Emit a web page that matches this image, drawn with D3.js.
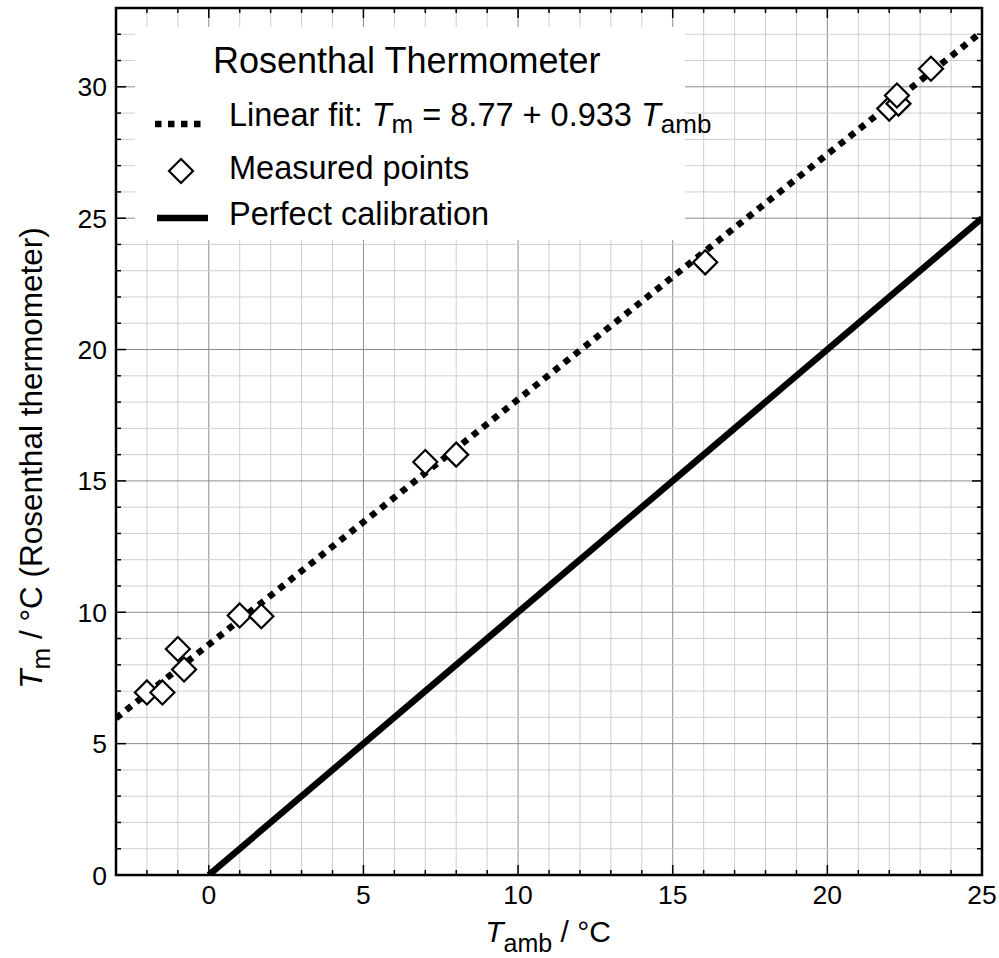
<!DOCTYPE html>
<html>
<head>
<meta charset="utf-8">
<script src="https://cdn.jsdelivr.net/npm/d3@7"></script>
<style>
  body { margin: 0; background: #fff; }
  svg { display: block; font-family: "Liberation Sans", Arial, sans-serif; }
</style>
</head>
<body>
<script>
// DATA
var measX = [-2.0, -1.5, -1.0, -0.8, 1.0, 1.7, 7.0, 8.0, 16.05, 22.0, 22.3, 22.25, 23.35];
var measY = [6.95, 6.95, 8.6, 7.82, 9.88, 9.85, 15.72, 16.0, 23.32, 29.17, 29.36, 29.67, 30.69];
var fitX = [-3, 25];
var fitY = [5.97, 32.1];
var perfX = [0, 25];
var perfY = [0, 25];
var xTicks = [0, 5, 10, 15, 20, 25];
var yTicks = [0, 5, 10, 15, 20, 25, 30];

var w = 999, h = 958;
// plot box (note: "top" is taken by window.top, so use a prefix)
var pL = 116, pR = 982, pT = 8, pB = 875;

var x = d3.scaleLinear().domain([-3, 25]).range([pL, pR]);
var y = d3.scaleLinear().domain([0, 33]).range([pB, pT]);

var svg = d3.select("body").append("svg")
    .attr("width", w)
    .attr("height", h);

svg.append("rect").attr("width", w).attr("height", h).attr("fill", "white");

svg.append("clipPath").attr("id", "plot")
   .append("rect")
   .attr("x", pL).attr("y", pT)
   .attr("width", pR - pL).attr("height", pB - pT);

// grid, every 1 unit; darker at the labelled values
var gx = d3.range(-3, 26);
var gy = d3.range(0, 34);
var grid = svg.append("g");
grid.selectAll("line.vx")
    .data(gx)
    .enter()
    .append("line")
    .attr("x1", function(d) { return x(d); })
    .attr("x2", function(d) { return x(d); })
    .attr("y1", pT).attr("y2", pB)
    .attr("stroke", function(d) { return d % 5 == 0 ? "#8c8c8c" : "#cfcfcf"; })
    .attr("stroke-width", 1);
grid.selectAll("line.hy")
    .data(gy)
    .enter()
    .append("line")
    .attr("y1", function(d) { return y(d); })
    .attr("y2", function(d) { return y(d); })
    .attr("x1", pL).attr("x2", pR)
    .attr("stroke", function(d) { return d % 5 == 0 ? "#8c8c8c" : "#cfcfcf"; })
    .attr("stroke-width", 1);

// legend background hides the grid
svg.append("rect")
   .attr("x", 135).attr("y", 27)
   .attr("width", 550).attr("height", 213)
   .attr("fill", "white");

// lines
var line = d3.line()
    .x(function(d) { return x(d[0]); })
    .y(function(d) { return y(d[1]); });

var plot = svg.append("g").attr("clip-path", "url(#plot)");

plot.append("path")
    .datum(d3.zip(perfX, perfY))
    .attr("d", line)
    .attr("fill", "none")
    .attr("stroke", "black")
    .attr("stroke-width", 6.5);

plot.append("path")
    .datum(d3.zip(fitX, fitY))
    .attr("d", line)
    .attr("fill", "none")
    .attr("stroke", "black")
    .attr("stroke-width", 6.5)
    .attr("stroke-dasharray", "6.5,6.5");

// measured points
var diamond = function(cx, cy, r) {
    return "M" + cx + "," + (cy - r) + "L" + (cx + r) + "," + cy +
           "L" + cx + "," + (cy + r) + "L" + (cx - r) + "," + cy + "Z";
};
plot.selectAll("path.pt")
    .data(d3.zip(measX, measY))
    .enter()
    .append("path")
    .attr("d", function(d) { return diamond(x(d[0]), y(d[1]), 12); })
    .attr("fill", "white")
    .attr("stroke", "black")
    .attr("stroke-width", 2.2);

// ticks on all four sides, pointing inward
var ticks = svg.append("g").attr("stroke", "black").attr("stroke-width", 1.5);
gx.forEach(function(d) {
    var len = d % 5 == 0 ? 10 : 5;
    ticks.append("line").attr("x1", x(d)).attr("x2", x(d)).attr("y1", pB).attr("y2", pB - len);
    ticks.append("line").attr("x1", x(d)).attr("x2", x(d)).attr("y1", pT).attr("y2", pT + len);
});
gy.forEach(function(d) {
    var len = d % 5 == 0 ? 10 : 5;
    ticks.append("line").attr("y1", y(d)).attr("y2", y(d)).attr("x1", pL).attr("x2", pL + len);
    ticks.append("line").attr("y1", y(d)).attr("y2", y(d)).attr("x1", pR).attr("x2", pR - len);
});

// frame
svg.append("rect")
   .attr("x", pL).attr("y", pT)
   .attr("width", pR - pL).attr("height", pB - pT)
   .attr("fill", "none")
   .attr("stroke", "black")
   .attr("stroke-width", 2.5);

// tick labels
svg.selectAll("text.xt")
   .data(xTicks)
   .enter()
   .append("text")
   .attr("x", function(d) { return x(d); })
   .attr("y", 904)
   .attr("text-anchor", "middle")
   .attr("font-size", 26.5)
   .text(function(d) { return d; });

svg.selectAll("text.yt")
   .data(yTicks)
   .enter()
   .append("text")
   .attr("x", 107)
   .attr("y", function(d) { return y(d) + 9.5; })
   .attr("text-anchor", "end")
   .attr("font-size", 26.5)
   .text(function(d) { return d; });

// axis labels
var xl = svg.append("text")
   .attr("x", 548).attr("y", 942)
   .attr("text-anchor", "middle")
   .attr("font-size", 30);
xl.append("tspan").attr("font-style", "italic").text("T");
xl.append("tspan").attr("font-size", 25).attr("dy", 10).text("amb");
xl.append("tspan").attr("dy", -10).text(" / °C");

var yl = svg.append("text")
   .attr("transform", "translate(42," + 458 + ") rotate(-90)")
   .attr("text-anchor", "middle")
   .attr("font-size", 31.5);
yl.append("tspan").attr("font-style", "italic").text("T");
yl.append("tspan").attr("font-size", 26).attr("dy", 8).text("m");
yl.append("tspan").attr("dy", -8).text(" / °C (Rosenthal thermometer)");

// legend
var lg = svg.append("g");
lg.append("text")
  .attr("x", 213).attr("y", 73)
  .attr("font-size", 36)
  .text("Rosenthal Thermometer");

lg.append("line")
  .attr("x1", 155).attr("x2", 206).attr("y1", 124).attr("y2", 124)
  .attr("stroke", "black").attr("stroke-width", 6.5)
  .attr("stroke-dasharray", "6.5,6.5");
var t1 = lg.append("text").attr("x", 229).attr("y", 126).attr("font-size", 32.5);
t1.append("tspan").text("Linear fit: ");
t1.append("tspan").attr("font-style", "italic").text("T");
t1.append("tspan").attr("font-size", 26).attr("dy", 7).text("m");
t1.append("tspan").attr("dy", -7).text(" = 8.77 + 0.933 ");
t1.append("tspan").attr("font-style", "italic").text("T");
t1.append("tspan").attr("font-size", 26).attr("dy", 7).text("amb");

lg.append("path")
  .attr("d", diamond(181, 171, 12))
  .attr("fill", "white").attr("stroke", "black").attr("stroke-width", 2.2);
lg.append("text").attr("x", 229).attr("y", 179).attr("font-size", 32.5).text("Measured points");

lg.append("line")
  .attr("x1", 157).attr("x2", 208).attr("y1", 218).attr("y2", 218)
  .attr("stroke", "black").attr("stroke-width", 6.5);
lg.append("text").attr("x", 229).attr("y", 225).attr("font-size", 32.5).text("Perfect calibration");
</script>
</body>
</html>
